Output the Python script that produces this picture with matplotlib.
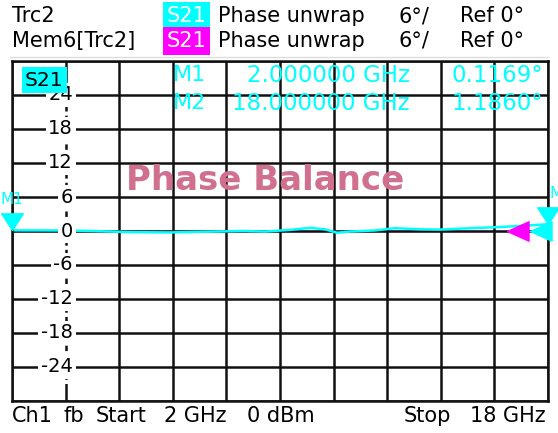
import numpy as np
import matplotlib.pyplot as plt
from matplotlib import transforms

# trace data (GHz, degrees)
freq_ghz = [2.0, 3.43, 4.39, 5.52, 6.72, 7.61, 8.90, 9.55, 10.30, 10.90, 11.34,
            11.70, 12.09, 12.84, 13.43, 14.18, 14.78, 15.67, 16.57, 17.46, 18.0]
phase_trc2 = [0.12, 0.10, 0.0, -0.20, -0.25, -0.15, 0.0, -0.10, 0.20, 0.55, 0.30,
              -0.30, -0.10, 0.10, 0.50, 0.30, 0.25, 0.50, 0.70, 1.00, 1.186]
phase_mem6 = [0.0, 0.0, 0.0, 0.0, 0.0, 0.0, 0.0, 0.0, 0.0, 0.0, 0.0,
              0.0, 0.0, 0.0, 0.0, 0.0, 0.0, 0.0, 0.0, 0.0, 0.0]

y_ticks = [24, 18, 12, 6, 0, -6, -12, -18, -24]
marker_names = ['M1', 'M2']
marker_freq = [2.0, 18.0]
marker_phase = [0.1169, 1.1860]
marker_freq_txt = ['2.000000 GHz', '18.000000 GHz']
marker_val_txt = ['0.1169°', '1.1860°']

CYAN = '#00ffff'
MAGENTA = '#ff00ff'
W, H = 558, 433
FONT = 'DejaVu Sans'


def px(x, y):
    # figure pixel position -> figure fraction
    return x / W, 1 - y / H


fig = plt.figure(figsize=(W / 100, H / 100), dpi=100)
ax = fig.add_axes([12 / W, 1 - 401 / H, 536 / W, 340 / H])
ax.set_xlim(2, 18)
ax.set_ylim(-30, 30)
ax.set_xticks(np.linspace(2, 18, 11))
ax.set_yticks(np.arange(-30, 31, 6))
ax.tick_params(length=0, labelbottom=False, labelleft=False)
ax.grid(True, color='#111111', lw=1.8)
for s in ax.spines.values():
    s.set_linewidth(1.8)
    s.set_color('#111111')

# broken scale column
ax.plot([3.6, 3.6], [-27, 27], color='white', lw=3, dashes=(1.0, 1.3), zorder=2)

lbl_tr = transforms.blended_transform_factory(ax.transAxes, ax.transData)
for v in y_ticks:
    ax.text(61 / 536, v, str(v), transform=lbl_tr, ha='right', va='center',
            fontsize=14, family=FONT, zorder=3,
            bbox=dict(fc='white', ec='none', pad=2))

ax.plot(freq_ghz, phase_mem6, color=MAGENTA, lw=1, zorder=1)
ax.plot(freq_ghz, phase_trc2, color=CYAN, lw=1.8, zorder=2.5)

# marker triangles, tip on the trace
tri_down = [(0, 0), (-0.65, 1), (0.65, 1), (0, 0)]
ax.plot(marker_freq, marker_phase, ls='none', marker=tri_down, ms=24,
        color=CYAN, mec=CYAN, clip_on=False, zorder=5)
ax.text(2.0, 5.5, 'M1', color=CYAN, fontsize=11, family=FONT, ha='center',
        va='center', zorder=5, clip_on=False)
ax.text(18.05, 6.7, 'M2', color=CYAN, fontsize=11, family=FONT, ha='left',
        va='center', zorder=5, clip_on=False)

# reference level arrows at the right edge
tri_left = [(0, 0), (1, 0.45), (1, -0.45), (0, 0)]
ax.plot([(507 - 12) / 536], [0], transform=lbl_tr, marker=tri_left, ms=31,
        color=MAGENTA, mec=MAGENTA, ls='none', clip_on=False, zorder=5)
ax.plot([(530 - 12) / 536], [0], transform=lbl_tr, marker=tri_left, ms=31,
        color=CYAN, mec=CYAN, ls='none', clip_on=False, zorder=5)

# S21 tag in the diagram
fig.text(*px(25, 80), 'S21', fontsize=14.5, family=FONT, va='center', zorder=6,
         bbox=dict(fc=CYAN, ec='none', pad=2.2))

# marker readout
for i in range(2):
    yy = 75 + 28 * i
    fig.text(*px(173, yy), marker_names[i], color=CYAN, fontsize=16, family=FONT,
             va='center')
    fig.text(*px(410, yy), marker_freq_txt[i], color=CYAN, fontsize=16.5,
             family=FONT, va='center', ha='right')
    fig.text(*px(543, yy), marker_val_txt[i], color=CYAN, fontsize=16.5,
             family=FONT, va='center', ha='right')

fig.text(*px(265, 181), 'Phase Balance', color='#d0708e', fontsize=24.5,
         family=FONT, weight='bold', ha='center', va='center', zorder=7)

# header
hdr = [('Trc2', CYAN, 16), ('Mem6[Trc2]', MAGENTA, 41)]
for name, col, yy in hdr:
    fig.text(*px(12, yy), name, fontsize=15, family=FONT, va='center')
    fig.text(*px(167, yy), 'S21', fontsize=15, family=FONT, va='center',
             color='white', bbox=dict(fc=col, ec='none', pad=2.5))
    fig.text(*px(218, yy), 'Phase unwrap', fontsize=15, family=FONT, va='center')
    fig.text(*px(398, yy), '6°/', fontsize=15, family=FONT, va='center')
    fig.text(*px(460, yy), 'Ref 0°', fontsize=15, family=FONT, va='center')
fig.add_artist(plt.Line2D([10 / W, 548 / W], [1 - 57 / H] * 2, color='#dddddd',
                          lw=1, transform=fig.transFigure))

# footer
footer = [('Ch1', 12), ('fb', 64), ('Start', 96), ('2 GHz', 164),
          ('0 dBm', 247), ('Stop', 404), ('18 GHz', 470)]
for t, x in footer:
    fig.text(*px(x, 416), t, fontsize=15, family=FONT, va='center')

fig.savefig('out.png', dpi=100)
